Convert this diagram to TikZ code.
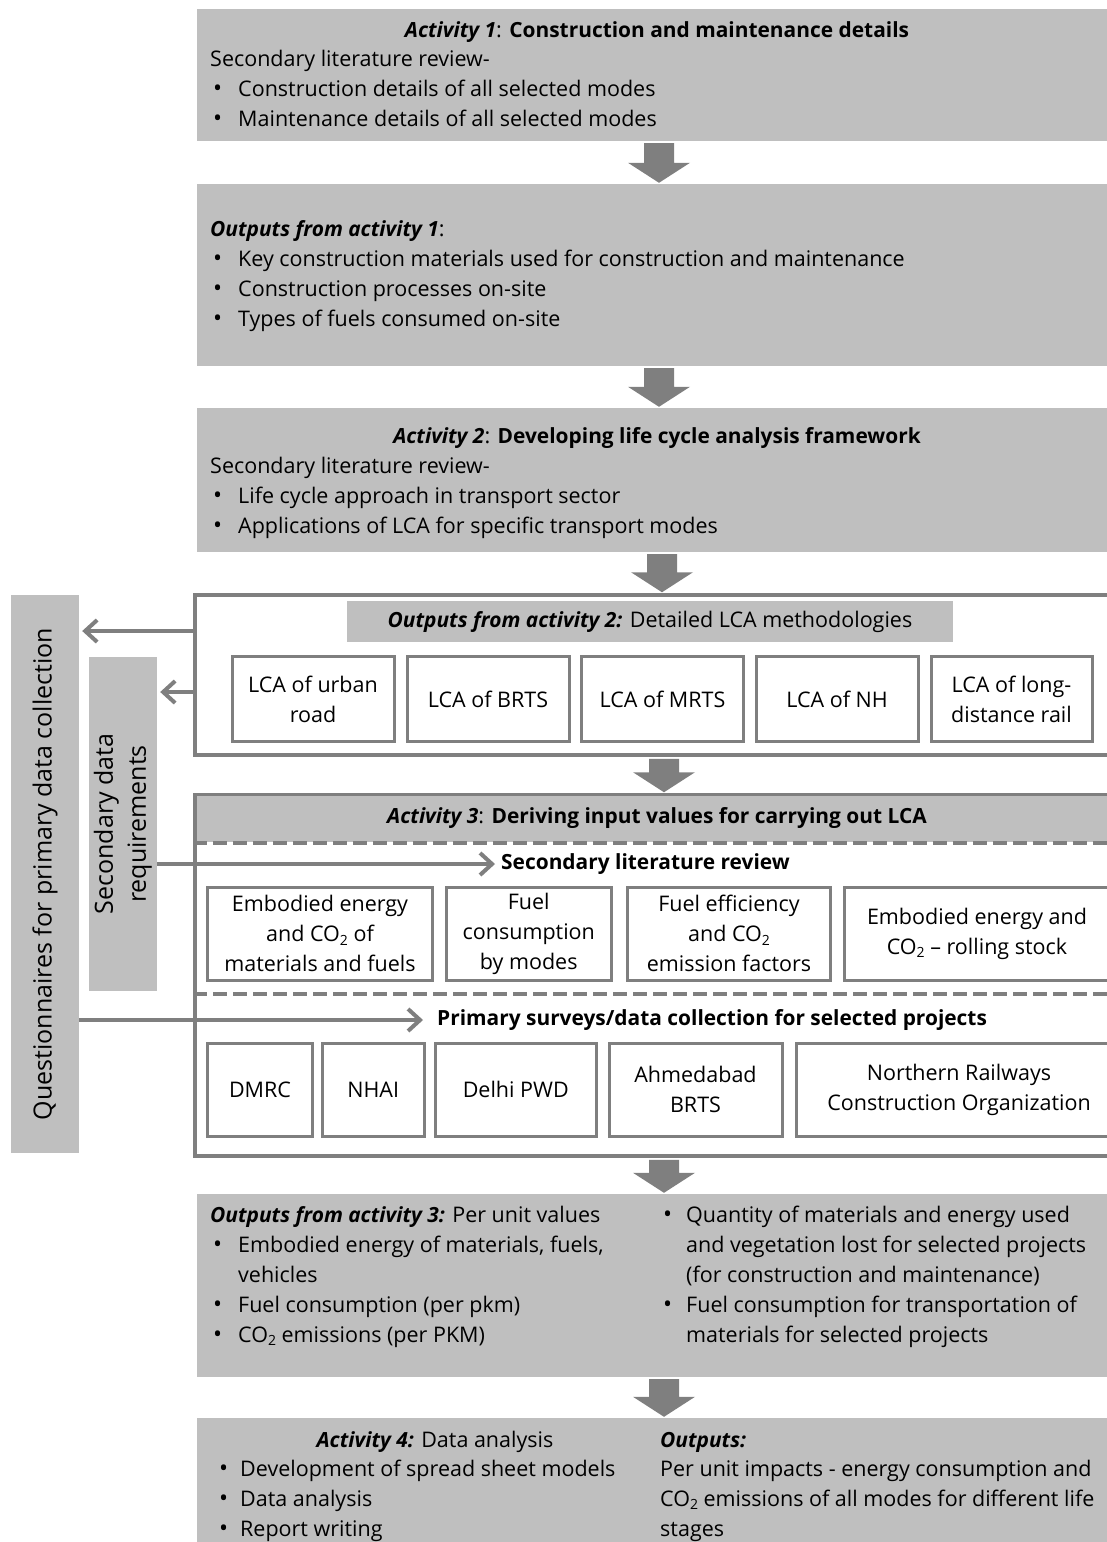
\documentclass[tikz,border=0pt]{standalone}
\usepackage{fontspec}
\setmainfont{Open Sans}
\usetikzlibrary{arrows.meta,calc}
\definecolor{boxgray}{HTML}{BFBFBF}
\definecolor{linegray}{HTML}{7F7F7F}
\newcommand\bodyfont{\fontsize{21.5}{30}\selectfont}
\newcommand\boldfont{\fontsize{20.9}{30}\selectfont\bfseries}
\newcommand\barfont{\fontsize{25}{33}\selectfont}
\newcommand\cotwo{CO\raisebox{-3.5pt}{\fontsize{14}{14}\selectfont 2}}
\newcommand\bitem[2][25pt]{\makebox[#1][l]{\fontsize{24}{24}\selectfont\textbullet}#2}
\newcommand\bb[1]{{\boldfont #1}}
\newcommand\bi[1]{{\boldfont\itshape #1}}
\begin{document}
\begin{tikzpicture}[x=1pt,y=-1pt,
  gbox/.style={fill=boxgray, draw=none, inner sep=0pt},
  wbox/.style={draw=linegray, line width=3.5pt, fill=white, inner sep=0pt},
  ibox/.style={draw=linegray, line width=3pt, fill=white, inner sep=0pt, align=center, font=\bodyfont},
  dims/.style 2 args={minimum width=#1, minimum height=#2},
  txt/.style={inner sep=0pt, font=\bodyfont, anchor=base west},
  ctxt/.style={inner sep=0pt, font=\bodyfont, anchor=base},
  conn/.style={draw=linegray, line width=4pt, -{Straight Barb[length=12pt,width=22pt]}},
  blockarr/.style={fill=linegray, to path={let \p1=(\tikztostart), \p2=(\tikztotarget) in
     (\x1-15pt,\y1-2pt) -- (\x1+15pt,\y1-2pt) -- (\x1+15pt,\y2+21pt) -- (\x1+31pt,\y2+21pt)
     -- (\x1,\y2+1pt) -- (\x1-31pt,\y2+21pt) -- (\x1-15pt,\y2+21pt) -- cycle}},
  dashline/.style={draw=linegray, line width=3.5pt, dash pattern=on 14pt off 6pt},
]
\useasboundingbox (0,0) rectangle (1107,1542);

% ---------- Activity 1 ----------
\node[gbox, dims={918}{132}] (b1) at (656,75) {};
\node[ctxt] (b1h) at (657,37) {\bi{Activity 1}: \bb{Construction and maintenance details}};
\node[txt] (b1a) at (210,66) {Secondary literature review-};
\node[txt] (b1b) at (213,96) {\bitem{Construction details of all selected modes}};
\node[txt] (b1c) at (213,126) {\bitem{Maintenance details of all selected modes}};

% ---------- Outputs 1 ----------
\node[gbox, dims={918}{182}] (b2) at (656,275) {};
\node[txt] (b2h) at (210,236) {\bi{Outputs from activity 1}:};
\node[txt] (b2a) at (213,266) {\bitem{Key construction materials used for construction and maintenance}};
\node[txt] (b2b) at (213,296) {\bitem{Construction processes on-site}};
\node[txt] (b2c) at (213,326) {\bitem{Types of fuels consumed on-site}};

% ---------- Activity 2 ----------
\node[gbox, dims={918}{144}] (b3) at (656,480) {};
\node[ctxt] (b3h) at (657,443) {\bi{Activity 2}: \bb{Developing life cycle analysis framework}};
\node[txt] (b3a) at (210,473) {Secondary literature review-};
\node[txt] (b3b) at (213,503) {\bitem{Life cycle approach in transport sector}};
\node[txt] (b3c) at (213,533) {\bitem{Applications of LCA for specific transport modes}};

% ---------- Outputs 2 ----------
\node[wbox, dims={925}{160}] (b4) at (657.5,675) {};
\node[gbox, dims={606}{41}, font=\bodyfont] (b4t) at (650,621.5) {\bi{Outputs from activity 2:} Detailed LCA methodologies};
\node[ibox, dims={162}{85}] (m1) at (313,699) {LCA of urban\\road};
\node[ibox, dims={162}{85}] (m2) at (488,699) {LCA of BRTS};
\node[ibox, dims={162}{85}] (m3) at (662.5,699) {LCA of MRTS};
\node[ibox, dims={162}{85}] (m4) at (837,699) {LCA of NH};
\node[ibox, dims={161}{85}] (m5) at (1011.5,699) {LCA of long-\\distance rail};

% ---------- Activity 3 ----------
\node[wbox, dims={925}{361}] (b5) at (657.5,975.5) {};
\node[gbox, dims={921.5}{46}] (b5h) at (657.5,819) {};
\node[ctxt] (b5ht) at (657,823) {\bi{Activity 3}: \bb{Deriving input values for carrying out LCA}};
\draw[dashline] (b5.west |- 0,843) -- (b5.east |- 0,843);
\draw[dashline] (b5.west |- 0,994) -- (b5.east |- 0,994);
\node[inner sep=0pt, font=\boldfont, anchor=west] (sec) at (501,864) {Secondary literature review};
\node[ibox, dims={225}{92.5}] (s1) at (320,933.75) {Embodied energy\\and \cotwo{} of\\materials and fuels};
\node[ibox, dims={164.5}{92.5}] (s2) at (528.75,933.75) {Fuel\\consumption\\by modes};
\node[ibox, dims={203}{92.5}] (s3) at (729,933.75) {Fuel efficiency\\and \cotwo{}\\emission factors};
\node[ibox, dims={265.5}{92.5}] (s4) at (977,933.75) {Embodied energy and\\\cotwo{} -- rolling stock};
\node[inner sep=0pt, font=\boldfont, anchor=west] (prim) at (437,1020) {Primary surveys/data collection for selected projects};
\node[ibox, dims={105}{92.5}] (p1) at (260,1089.75) {DMRC};
\node[ibox, dims={101.5}{92.5}] (p2) at (373.25,1089.75) {NHAI};
\node[ibox, dims={160.5}{92.5}] (p3) at (515.75,1089.75) {Delhi PWD};
\node[ibox, dims={173}{92.5}] (p4) at (695.5,1089.75) {Ahmedabad\\BRTS};
\node[ibox, dims={325.5}{92.5}] (p5) at (959,1089.75) {Northern Railways\\Construction Organization};

% ---------- Outputs 3 ----------
\node[gbox, dims={918}{183}] (b6) at (656,1285.5) {};
\node[txt] (b6a) at (210,1222) {\bi{Outputs from activity 3:} Per unit values};
\node[txt] (b6b) at (213,1252) {\bitem{Embodied energy of materials, fuels,}};
\node[txt] (b6c) at (238,1282) {vehicles};
\node[txt] (b6d) at (213,1312) {\bitem{Fuel consumption (per pkm)}};
\node[txt] (b6e) at (213,1342) {\bitem{\cotwo{} emissions (per PKM)}};
\node[txt] (b6f) at (663,1222) {\bitem[23pt]{Quantity of materials and energy used}};
\node[txt] (b6g) at (686,1252) {and vegetation lost for selected projects};
\node[txt] (b6h) at (686,1282) {(for construction and maintenance)};
\node[txt] (b6i) at (663,1312) {\bitem[23pt]{Fuel consumption for transportation of}};
\node[txt] (b6j) at (686,1342) {materials for selected projects};

% ---------- Activity 4 ----------
\node[gbox, dims={918}{132}] (b7) at (656,1484) {};
\node[ctxt] (b7h) at (435,1447) {\bi{Activity 4:} Data analysis};
\node[txt] (b7a) at (219,1476) {\bitem[21pt]{Development of spread sheet models}};
\node[txt] (b7b) at (219,1506) {\bitem[21pt]{Data analysis}};
\node[txt] (b7c) at (219,1536) {\bitem[21pt]{Report writing}};
\node[txt] (b7d) at (660,1447) {\bi{Outputs:}};
\node[txt] (b7e) at (660,1476) {Per unit impacts - energy consumption and};
\node[txt] (b7f) at (660,1506) {\cotwo{} emissions of all modes for different life};
\node[txt] (b7g) at (660,1536) {stages};

% ---------- side bars ----------
\node[gbox, dims={68}{558}] (qbar) at (45,874) {};
\node[inner sep=0pt, rotate=90, font=\barfont] (qtxt) at (qbar.center) {Questionnaires for primary data collection};
\node[gbox, dims={68}{334}] (sbar) at (123,824) {};
\node[inner sep=0pt, rotate=90, align=center, font=\barfont] (stxt) at (sbar.center) {Secondary data\\requirements};

% ---------- block arrows ----------
\path[blockarr] (b1.south -| 659,0) to (b2.north -| 659,0);
\path[blockarr] (b2.south -| 659,0) to (b3.north -| 659,0);
\path[blockarr] (b3.south -| 662,0) to (b4.north -| 662,0);
\path[blockarr] (b4.south -| 664,0) to (b5.north -| 664,0);
\path[blockarr] (b5.south -| 664,0) to (b6.north -| 664,0);
\path[blockarr] (b6.south -| 664,0) to (b7.north -| 664,0);

% ---------- connectors ----------
\draw[conn, shorten >=3pt] (b4.west |- 0,631) -- (qbar.east |- 0,631);
\draw[conn, shorten >=3pt] (b4.west |- 0,692) -- (sbar.east |- 0,692);
\draw[conn, shorten >=6pt] (sbar.east |- sec.west) -- (sec.west);
\draw[conn, shorten >=14pt] (qbar.east |- prim.west) -- (prim.west);
\end{tikzpicture}
\end{document}
